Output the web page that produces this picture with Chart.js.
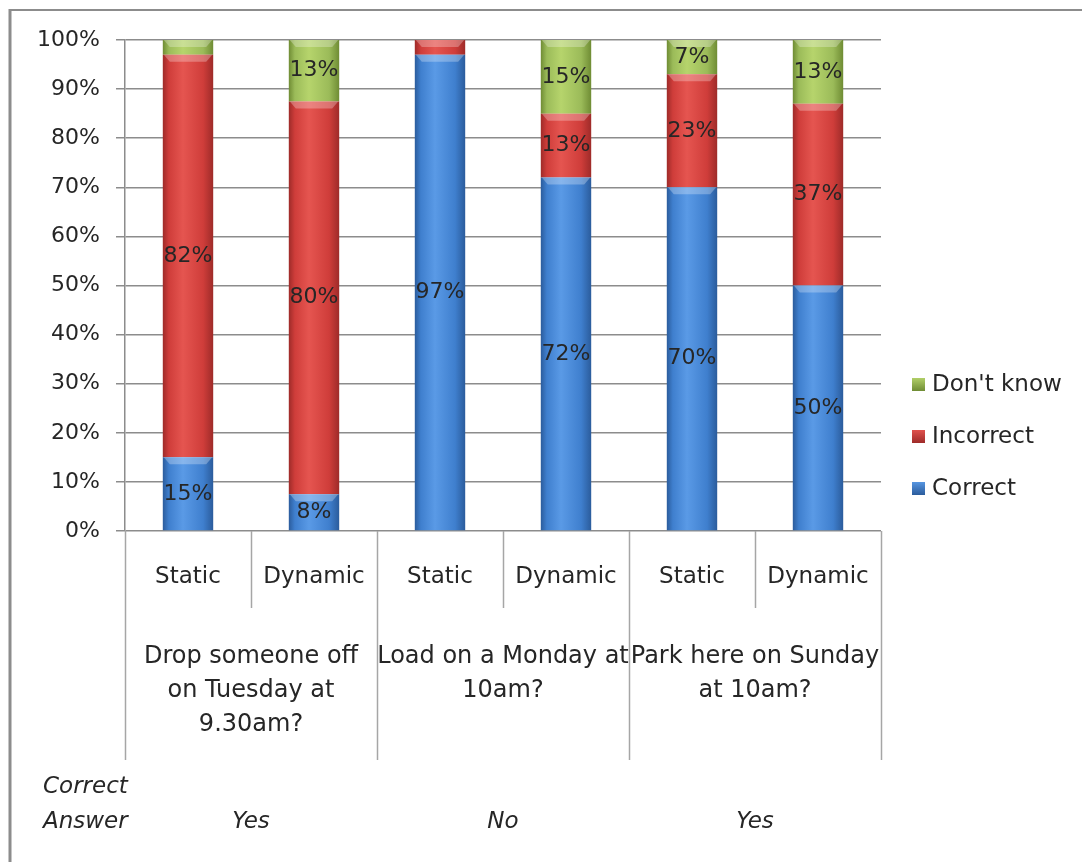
<!DOCTYPE html>
<html>
<head>
<meta charset="utf-8">
<script src="https://cdn.jsdelivr.net/npm/chart.js@4/dist/chart.umd.min.js"></script>
<style>
  html, body { margin: 0; padding: 0; background: #fff; }
  canvas { display: block; }
</style>
</head>
<body>
<canvas id="chart" width="1082" height="862"></canvas>
<script>
// data (percent of answers)
var categories = ['Static', 'Dynamic', 'Static', 'Dynamic', 'Static', 'Dynamic'];
var questions = [
	['Drop someone off', 'on Tuesday at', '9.30am?'],
	['Load on a Monday at', '10am?'],
	['Park here on Sunday', 'at 10am?']
];
var correctAnswers = ['Yes', 'No', 'Yes'];
var correctPct = [15, 7.5, 97, 72, 70, 50];
var incorrectPct = [82, 80, 3, 13, 23, 37];
var dontKnowPct = [3, 12.5, 0, 15, 7, 13];

var FONT = 'DejaVu Sans';
var TEXT = '#262626';

// light, mid, dark shades for the glossy bars
var blue = ['#5a9ae6', '#3f7fce', '#2b5c9c'];
var red = ['#e55550', '#cf3d3a', '#9e2b29'];
var green = ['#b6d46c', '#9bbb59', '#6f8c34'];

function barFill(shades) {
	return function(ctx) {
		var chart = ctx.chart;
		var x = chart.scales.x;
		if (!x || ctx.dataIndex === undefined || !chart.chartArea) return shades[1];
		var cx = x.getPixelForValue(ctx.dataIndex);
		var w = (chart.chartArea.right - chart.chartArea.left) / categories.length * 0.4;
		var g = chart.ctx.createLinearGradient(cx - w / 2, 0, cx + w / 2, 0);
		g.addColorStop(0, shades[2]);
		g.addColorStop(0.12, shades[1]);
		g.addColorStop(0.4, shades[0]);
		g.addColorStop(0.8, shades[1]);
		g.addColorStop(1, shades[2]);
		return g;
	};
}

var framePlugin = {
	id: 'frame',
	beforeDraw: function(chart) {
		var ctx = chart.ctx;
		ctx.save();
		ctx.fillStyle = '#fff';
		ctx.fillRect(0, 0, chart.width, chart.height);
		ctx.strokeStyle = '#8c8c8c';
		ctx.lineWidth = 2;
		ctx.beginPath();
		ctx.moveTo(10, 10);
		ctx.lineTo(chart.width, 10);
		ctx.stroke();
		ctx.lineWidth = 3;
		ctx.beginPath();
		ctx.moveTo(10, 9);
		ctx.lineTo(10, chart.height);
		ctx.stroke();
		ctx.restore();
	}
};

// bevel highlight + value labels
var barLabels = {
	id: 'barLabels',
	afterDatasetsDraw: function(chart) {
		var ctx = chart.ctx;
		ctx.save();
		chart.data.datasets.forEach(function(ds, di) {
			var meta = chart.getDatasetMeta(di);
			meta.data.forEach(function(el, i) {
				var h = el.base - el.y;
				if (h < 1) return;
				var l = el.x - el.width / 2, r = el.x + el.width / 2;
				var bh = Math.min(7, h / 2);
				ctx.fillStyle = 'rgba(255,255,255,0.28)';
				ctx.beginPath();
				ctx.moveTo(l + 1, el.y);
				ctx.lineTo(r - 1, el.y);
				ctx.lineTo(r - 7, el.y + bh);
				ctx.lineTo(l + 7, el.y + bh);
				ctx.closePath();
				ctx.fill();
			});
		});
		ctx.fillStyle = TEXT;
		ctx.font = '22px "' + FONT + '"';
		ctx.textAlign = 'center';
		ctx.textBaseline = 'middle';
		chart.data.datasets.forEach(function(ds, di) {
			var meta = chart.getDatasetMeta(di);
			meta.data.forEach(function(el, i) {
				var v = ds.data[i];
				if (v < 5) return;
				ctx.fillText(Math.round(v) + '%', el.x, (el.y + el.base) / 2);
			});
		});
		ctx.restore();
	}
};

// multi level category axis, correct answer row and legend
var axisPlugin = {
	id: 'multiAxis',
	afterDraw: function(chart) {
		var ctx = chart.ctx;
		var area = chart.chartArea;
		var x = chart.scales.x;
		var step = (area.right - area.left) / categories.length;
		ctx.save();
		ctx.strokeStyle = '#a6a6a6';
		ctx.lineWidth = 1.5;
		for (var i = 0; i <= categories.length; i++) {
			var px = Math.round(area.left + i * step) + 0.5;
			ctx.beginPath();
			ctx.moveTo(px, area.bottom);
			ctx.lineTo(px, area.bottom + (i % 2 === 0 ? 229 : 77));
			ctx.stroke();
		}
		ctx.fillStyle = TEXT;
		ctx.textAlign = 'center';
		ctx.textBaseline = 'middle';
		ctx.font = '23px "' + FONT + '"';
		categories.forEach(function(c, i) {
			ctx.fillText(c, x.getPixelForValue(i), area.bottom + 46);
		});
		ctx.font = '24px "' + FONT + '"';
		questions.forEach(function(q, g) {
			var cx = (x.getPixelForValue(g * 2) + x.getPixelForValue(g * 2 + 1)) / 2;
			q.forEach(function(line, k) {
				ctx.fillText(line, cx, area.bottom + 126 + k * 34);
			});
		});
		ctx.font = 'italic 23px "' + FONT + '"';
		correctAnswers.forEach(function(a, g) {
			var cx = (x.getPixelForValue(g * 2) + x.getPixelForValue(g * 2 + 1)) / 2;
			ctx.fillText(a, cx, area.bottom + 291);
		});
		ctx.textAlign = 'left';
		ctx.fillText('Correct', 43, area.bottom + 256);
		ctx.fillText('Answer', 43, area.bottom + 291);

		// legend, top item is the last series
		var items = chart.data.datasets.slice().reverse();
		var lx = area.right + 31;
		ctx.font = '23px "' + FONT + '"';
		items.forEach(function(ds, k) {
			var y = 384 + k * 52;
			var sh = ds.shades;
			var g = ctx.createLinearGradient(lx, y - 7, lx, y + 7);
			g.addColorStop(0, sh[0]);
			g.addColorStop(1, sh[2]);
			ctx.fillStyle = g;
			ctx.fillRect(lx, y - 6, 13, 13);
			ctx.fillStyle = TEXT;
			ctx.fillText(ds.label, lx + 20, y + 1);
		});
		ctx.restore();
	}
};

var ctx = document.getElementById('chart');
var myChart = new Chart(ctx, {
	type: 'bar',
	data: {
		labels: categories,
		datasets: [
			{ label: 'Correct', data: correctPct, backgroundColor: barFill(blue), shades: blue },
			{ label: 'Incorrect', data: incorrectPct, backgroundColor: barFill(red), shades: red },
			{ label: "Don't know", data: dontKnowPct, backgroundColor: barFill(green), shades: green }
		]
	},
	options: {
		responsive: false,
		animation: false,
		devicePixelRatio: 1,
		layout: { padding: { left: 0, top: 40, right: 201, bottom: 331 } },
		datasets: { bar: { barPercentage: 0.4, categoryPercentage: 1 } },
		plugins: { legend: { display: false }, tooltip: { enabled: false } },
		scales: {
			x: { stacked: true, display: false },
			y: {
				stacked: true,
				min: 0,
				max: 100,
				afterFit: function(scale) { scale.width = 125; },
				ticks: {
					stepSize: 10,
					padding: 16,
					color: TEXT,
					font: { family: FONT, size: 22 },
					callback: function(v) { return v + '%'; }
				},
				grid: { color: '#8c8c8c', lineWidth: 1.5, tickLength: 9 },
				border: { color: '#8c8c8c', width: 1.5 }
			}
		}
	},
	plugins: [framePlugin, barLabels, axisPlugin]
});
</script>
</body>
</html>
